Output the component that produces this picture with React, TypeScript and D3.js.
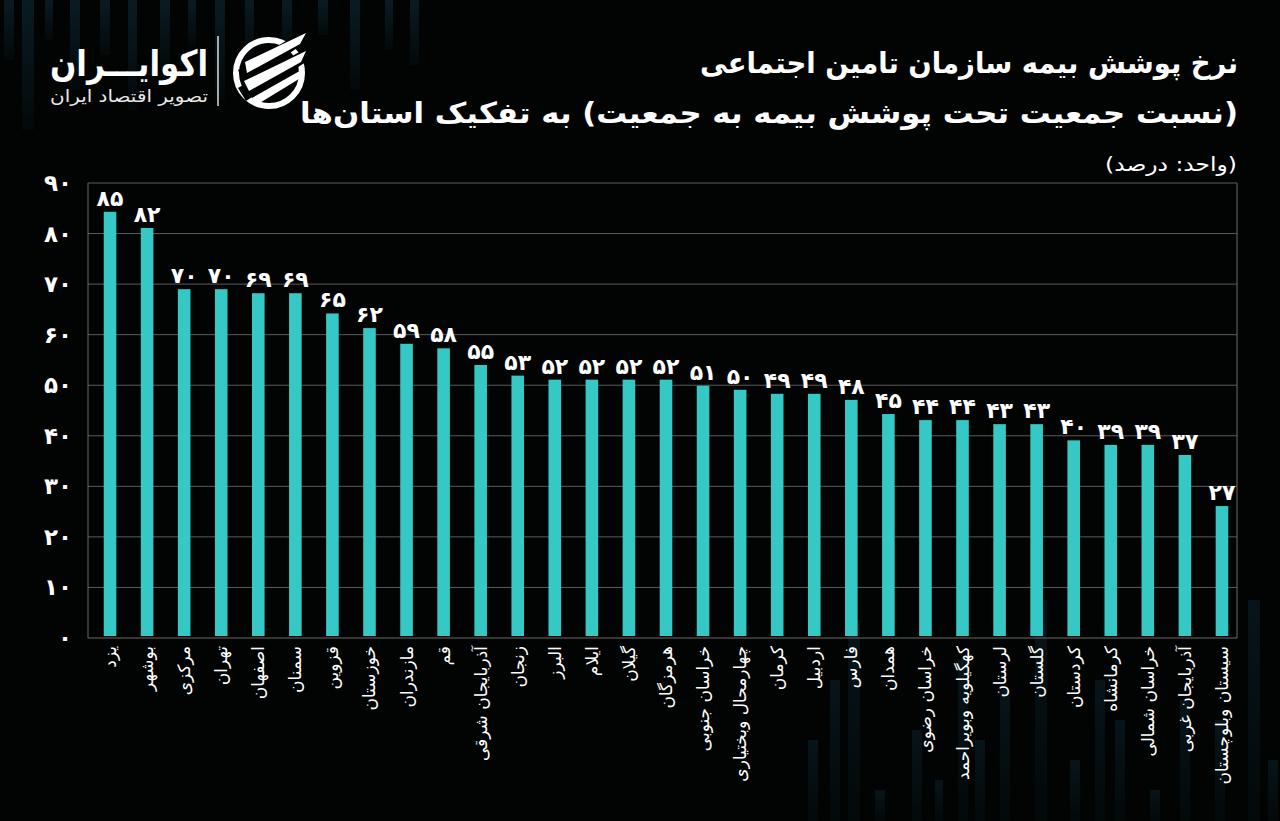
import React from "react";
import * as d3 from "d3";

const provinces = [
  "یزد", "بوشهر", "مرکزی", "تهران", "اصفهان", "سمنان", "قزوین", "خوزستان", "مازندران", "قم",
  "آذربایجان شرقی", "زنجان", "البرز", "ایلام", "گیلان", "هرمزگان", "خراسان جنوبی", "چهارمحال وبختیاری",
  "کرمان", "اردبیل", "فارس", "همدان", "خراسان رضوی", "کهگیلویه وبویراحمد", "لرستان", "گلستان",
  "کردستان", "کرمانشاه", "خراسان شمالی", "آذربایجان غربی", "سیستان وبلوچستان",
];
const coverage = [
  84.3, 81.1, 69.0, 69.0, 68.2, 68.2, 64.2, 61.3, 58.2, 57.3,
  54.0, 51.9, 51.1, 51.1, 51.1, 51.1, 49.9, 49.1,
  48.3, 48.3, 47.1, 44.3, 43.1, 43.1, 42.3, 42.3,
  39.1, 38.2, 38.2, 36.2, 26.1,
];
const valueLabels = [
  85, 82, 70, 70, 69, 69, 65, 62, 59, 58,
  55, 53, 52, 52, 52, 52, 51, 50,
  49, 49, 48, 45, 44, 44, 43, 43,
  40, 39, 39, 37, 27,
];
const yTicks = [0, 10, 20, 30, 40, 50, 60, 70, 80, 90];

const titleLine1 = "نرخ پوشش بیمه سازمان تامین اجتماعی";
const titleLine2 = "(نسبت جمعیت تحت پوشش بیمه به جمعیت) به تفکیک استان‌ها";
const unitText = "(واحد: درصد)";
const brandName = "اکوایـــران";
const brandSub = "تصویر اقتصاد ایران";

// decorative faint background bars [x, y, w, h]
const bgTop = [
  [4, 0, 10, 60], [22, 0, 12, 130], [45, 0, 8, 40], [70, 0, 10, 90], [100, 0, 10, 55],
  [128, 0, 9, 110], [160, 0, 10, 70], [188, 0, 8, 45], [215, 0, 10, 100], [245, 0, 9, 60],
  [282, 0, 10, 55], [318, 0, 10, 35], [350, 0, 10, 90], [385, 0, 8, 50], [410, 0, 9, 65],
];
const bgBottom = [
  [808, 740, 10, 81], [830, 680, 10, 141], [848, 620, 12, 201], [875, 790, 10, 31],
  [912, 730, 10, 91], [935, 780, 8, 41], [958, 660, 10, 161], [975, 740, 10, 81],
  [1000, 690, 10, 131], [1035, 600, 12, 221], [1070, 760, 10, 61], [1095, 680, 10, 141],
  [1115, 720, 10, 101], [1150, 790, 10, 31], [1180, 700, 10, 121], [1215, 720, 10, 101],
  [1248, 600, 12, 221], [1268, 760, 10, 61],
];

const fa = (v: number | string) => String(v).replace(/\d/g, (d) => "۰۱۲۳۴۵۶۷۸۹"[+d]);

const W = 1280;
const H = 821;
const frame = { left: 88, right: 1237, top: 183, bottom: 638 };
const FONT = "'DejaVu Sans', sans-serif";
const BAR = "#35c8c5";

export default function App() {
  const x = d3.scaleBand<string>().domain(provinces).range([91.5, 1240.5]).paddingInner(0.66).paddingOuter(0.33);
  const y = d3.scaleLinear().domain([0, 90]).range([frame.bottom, frame.top]);

  return (
    <svg
      width={W}
      height={H}
      style={{ position: "fixed", left: 0, top: 0, background: "#020303" }}
      fontFamily={FONT}
    >
      <defs>
        <linearGradient id="fadeDown" x1="0" y1="0" x2="0" y2="1">
          <stop offset="0" stopColor="#0c2630" stopOpacity={0.7} />
          <stop offset="1" stopColor="#0c2630" stopOpacity={0.15} />
        </linearGradient>
        <linearGradient id="fadeUp" x1="0" y1="0" x2="0" y2="1">
          <stop offset="0" stopColor="#0c2630" stopOpacity={0.5} />
          <stop offset="1" stopColor="#0c2630" stopOpacity={0.15} />
        </linearGradient>
      </defs>
      <rect x={0} y={0} width={W} height={H} fill="#020303" />
      {bgTop.map(([bx, by, bw, bh], i) => (
        <rect key={"t" + i} x={bx} y={by} width={bw} height={bh} fill="url(#fadeDown)" />
      ))}
      {bgBottom.map(([bx, by, bw, bh], i) => (
        <rect key={"b" + i} x={bx} y={by} width={bw} height={bh} fill="url(#fadeUp)" />
      ))}

      {/* logo */}
      <text x={208} y={76} direction="rtl" textAnchor="start" fill="#fff" fontSize={36} fontWeight="bold" textLength={158} lengthAdjust="spacingAndGlyphs">
        {brandName}
      </text>
      <text x={208} y={102} direction="rtl" textAnchor="start" fill="#e8e8e8" fontSize={17} textLength={158} lengthAdjust="spacingAndGlyphs">
        {brandSub}
      </text>
      <line x1={218} x2={218} y1={36} y2={106} stroke="#ddd" strokeWidth={1.5} />
      <g>
        <circle cx={269} cy={73} r={33} fill="none" stroke="#fff" strokeWidth={6} />
        <polygon points="238,70 304,30 312,38 244,84" fill="#020303" />
        <polygon points="238,88 306,48 312,58 246,101" fill="#020303" />
        <polygon points="245,62 306,33 300,44 247,73" fill="#fff" />
        <polygon points="244,81 306,51 301,62 249,91" fill="#fff" />
        <polygon points="252,98 305,68 299,79 258,104" fill="#fff" />
      </g>

      {/* titles */}
      <text x={1238} y={73} direction="rtl" textAnchor="start" fill="#fff" fontSize={29} fontWeight="bold" textLength={538} lengthAdjust="spacingAndGlyphs">
        {titleLine1}
      </text>
      <text x={1238} y={123} direction="rtl" textAnchor="start" fill="#fff" fontSize={29} fontWeight="bold" textLength={938} lengthAdjust="spacingAndGlyphs">
        {titleLine2}
      </text>
      <text x={1237} y={171} direction="rtl" textAnchor="start" fill="#fff" fontSize={20} textLength={132} lengthAdjust="spacingAndGlyphs">
        {unitText}
      </text>

      {/* grid */}
      {yTicks.map((t) => (
        <g key={t}>
          {t > 0 && (
            <line x1={frame.left} x2={frame.right} y1={y(t)} y2={y(t)} stroke="#5c5c5c" strokeWidth={1} />
          )}
          <text x={72} y={y(t)} dy="0.35em" textAnchor="end" fill="#fff" fontSize={23} fontWeight="bold">
            {fa(t)}
          </text>
        </g>
      ))}
      <line x1={frame.left} x2={frame.left} y1={frame.top} y2={frame.bottom} stroke="#6a6a6a" />
      <line x1={frame.right} x2={frame.right} y1={frame.top} y2={frame.bottom} stroke="#6a6a6a" />
      <line x1={frame.left} x2={frame.right} y1={frame.bottom} y2={frame.bottom} stroke="#6a6a6a" />

      {/* bars */}
      {provinces.map((p, i) => {
        const bx = x(p)!;
        const bw = x.bandwidth();
        const top = y(coverage[i]);
        return (
          <g key={p}>
            <rect x={bx} y={top} width={bw} height={y(0) - 2 - top} fill={BAR} />
            <text x={bx + bw / 2} y={top - 6} textAnchor="middle" fill="#fff" fontSize={22} fontWeight="bold">
              {fa(valueLabels[i])}
            </text>
            <text
              transform={`translate(${bx + bw / 2},646) rotate(-90)`}
              direction="rtl"
              textAnchor="start"
              dominantBaseline="central"
              fill="#fff"
              fontSize={17}
            >
              {p}
            </text>
          </g>
        );
      })}
    </svg>
  );
}
